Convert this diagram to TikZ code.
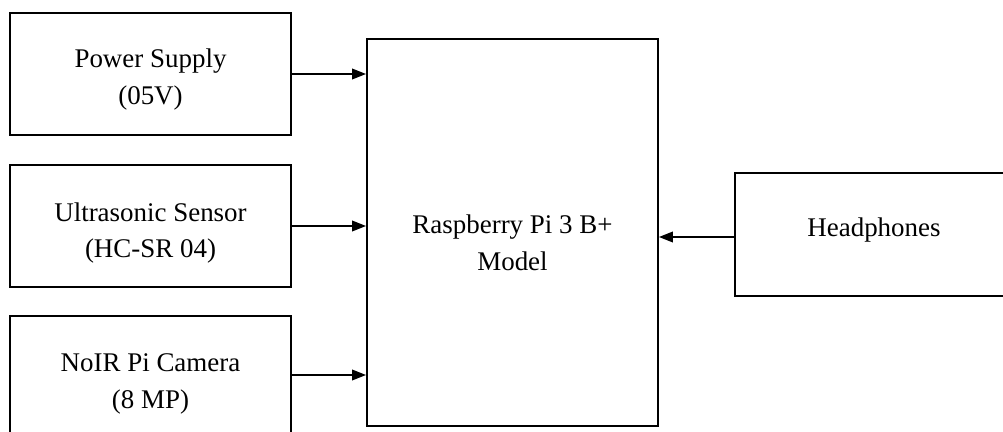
\documentclass[tikz,border=0pt]{standalone}
\usepackage{fontspec}
\setmainfont{Liberation Serif}
\usepackage{tikz}
\usetikzlibrary{arrows.meta, calc}
\newcommand{\topgap}[1]{\rule{0pt}{#1}}

\begin{document}
\begin{tikzpicture}[x=0.03cm, y=-0.03cm, >={Triangle[length=12pt, width=9pt]},
    font=\fontsize{23}{31.5}\selectfont, line width=1.5pt]
\tikzset{block/.style={draw, align=center, minimum width=8.43cm, minimum height=3.66cm, inner sep=0pt}}
\tikzset{link/.style={->, line width=1.6pt}}
\useasboundingbox (0,0) rectangle (1003,432);
% Inputs on the left
\node[block] (supply) at (150.5, 74) {\topgap{26pt}Power Supply\\(05V)};
\node[block] (sensor) at (150.5, 226) {\topgap{28pt}Ultrasonic Sensor\\(HC-SR 04)};
\node[block, minimum height=3.54cm] (camera) at (150.5, 375) {\topgap{30pt}NoIR Pi Camera\\(8 MP)};
% Board in the middle
\node[block, minimum width=8.73cm, minimum height=11.61cm] (pi) at (512.5, 232.5)
    {\topgap{33pt}Raspberry Pi 3 B+\\Model};
% Output on the right
\node[block, minimum width=8.34cm, minimum height=3.69cm] (phones) at (874, 234.5)
    {\rule[-12pt]{0pt}{12pt}Headphones};
\draw[link] (supply.east) -- (supply.east -| pi.west);
\draw[link] (sensor.east) -- (sensor.east -| pi.west);
\draw[link] (camera.east) -- (camera.east -| pi.west);
\draw[link] ($(phones.west)+(0,2.5)$) -- ($(phones.west -| pi.east)+(0,2.5)$);
\end{tikzpicture}
\end{document}
